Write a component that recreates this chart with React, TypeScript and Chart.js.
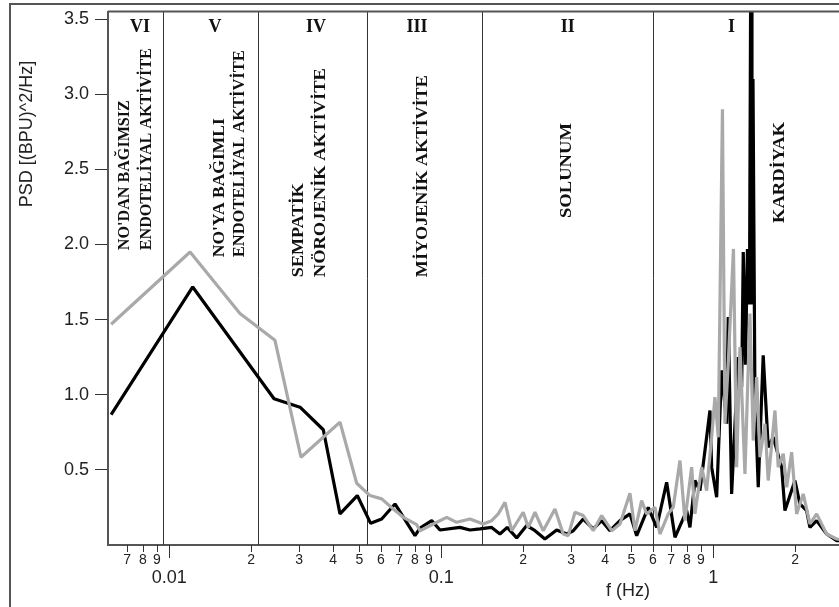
import React, { useEffect, useRef } from 'react';
import { Chart, registerables } from 'chart.js';

Chart.register(...registerables);

const SANS = '"Liberation Sans", Arial, sans-serif';
const SERIF = '"Liberation Serif", "Times New Roman", serif';

// ---- data ----
const blackFreq = [
  0.00611, 0.01219, 0.02427, 0.03024, 0.03683, 0.04242, 0.04911, 0.05499, 0.06037, 0.06758,
  0.08005, 0.0835, 0.0922, 0.0989, 0.1171, 0.1275, 0.1388, 0.1532, 0.1643, 0.1748,
  0.1893, 0.2061, 0.2211, 0.2405, 0.2656, 0.2891, 0.3057, 0.3326, 0.362, 0.3888,
  0.4172, 0.4539, 0.494, 0.523, 0.5768, 0.6192, 0.674, 0.7233, 0.7986, 0.8209,
  0.8564, 0.8935, 0.9725, 0.9865, 1.0292, 1.0737, 1.1201, 1.1353, 1.1684, 1.2356,
  1.2719, 1.2893, 1.3136, 1.3358, 1.3587, 1.378, 1.388, 1.4, 1.4233, 1.4636,
  1.5265, 1.5926, 1.6616, 1.7843, 1.8349, 1.997, 2.0834, 2.2047, 2.2671, 2.3995,
  2.6117, 2.8423, 3.2,
];
const blackPsd = [
  0.867, 1.717, 0.973, 0.917, 0.767, 0.207, 0.329, 0.144, 0.173, 0.273,
  0.062, 0.113, 0.162, 0.1, 0.117, 0.1, 0.107, 0.117, 0.073, 0.117,
  0.047, 0.129, 0.095, 0.04, 0.1, 0.073, 0.095, 0.173, 0.107, 0.162,
  0.095, 0.162, 0.207, 0.062, 0.25, 0.117, 0.417, 0.051, 0.229, 0.117,
  0.429, 0.362, 0.895, 0.518, 0.318, 1.162, 0.807, 1.517, 0.34, 1.25,
  1.05, 1.95, 1.2, 1.97, 1.6, 4.5, 1.6, 3.1, 0.984, 0.384,
  1.262, 0.651, 0.717, 0.518, 0.229, 0.429, 0.273, 0.229, 0.117, 0.162,
  0.073, 0.029, 0.03,
];
const grayFreq = [
  0.00611, 0.01192, 0.01819, 0.02446, 0.03049, 0.04242, 0.04886, 0.05468, 0.06037, 0.0666,
  0.0725, 0.08122, 0.0835, 0.09346, 0.1047, 0.1139, 0.1275, 0.1427, 0.1532, 0.162,
  0.1715, 0.1815, 0.2001, 0.2089, 0.2211, 0.2371, 0.2618, 0.2808, 0.293, 0.3102,
  0.3326, 0.362, 0.3888, 0.4233, 0.4539, 0.494, 0.5156, 0.5453, 0.5689, 0.6106,
  0.6368, 0.6832, 0.7127, 0.7544, 0.787, 0.8329, 0.8564, 0.9066, 0.9456, 0.9865,
  1.0145, 1.0432, 1.081, 1.1042, 1.1353, 1.1865, 1.219, 1.2538, 1.3079, 1.3643,
  1.4032, 1.4443, 1.4851, 1.5494, 1.5926, 1.6862, 1.7338, 1.8088, 1.8618, 1.9418,
  2.0259, 2.1423, 2.2671, 2.3995, 2.6117, 2.8423, 3.16,
];
const grayPsd = [
  1.469, 1.95, 1.54, 1.362, 0.584, 0.818, 0.411, 0.329, 0.307, 0.24,
  0.184, 0.135, 0.095, 0.14, 0.184, 0.151, 0.173, 0.14, 0.162, 0.207,
  0.284, 0.095, 0.218, 0.117, 0.218, 0.095, 0.24, 0.073, 0.062, 0.218,
  0.196, 0.095, 0.196, 0.095, 0.14, 0.344, 0.095, 0.295, 0.207, 0.251,
  0.073, 0.207, 0.251, 0.562, 0.162, 0.518, 0.207, 0.518, 0.362, 0.717,
  0.984, 0.717, 2.9, 0.807, 1.207, 1.97, 0.518, 1.317, 0.473, 1.54,
  0.695, 1.117, 0.584, 0.807, 0.429, 0.895, 0.518, 0.607, 0.384, 0.618,
  0.207, 0.34, 0.14, 0.207, 0.073, 0.04, 0.03,
];

const yTickValues = [0.5, 1, 1.5, 2, 2.5, 3, 3.5];
const xTickValues = [
  0.007, 0.008, 0.009, 0.01, 0.02, 0.03, 0.04, 0.05, 0.06, 0.07, 0.08, 0.09,
  0.1, 0.2, 0.3, 0.4, 0.5, 0.6, 0.7, 0.8, 0.9, 1, 2,
];
const xTickLabels = [
  '7', '8', '9', '0.01', '2', '3', '4', '5', '6', '7', '8', '9',
  '0.1', '2', '3', '4', '5', '6', '7', '8', '9', '1', '2',
];
const xMajorTicks = [0.01, 0.1, 1];

// band boundaries (Hz)
const bandEdges = [0.0095, 0.0212, 0.0532, 0.141, 0.598];
const bandNumerals = ['VI', 'V', 'IV', 'III', 'II', 'I'];
const bandNumeralFreq = [0.0078, 0.01472, 0.0346, 0.0814, 0.2915, 1.168];

// rotated band descriptions: text lines, their frequency, anchor psd value
const bandTextLines = [
  ["NO'DAN BAĞIMSIZ", 'ENDOTELİYAL AKTİVİTE'],
  ["NO'YA BAĞIMLI", 'ENDOTELİYAL AKTİVİTE'],
  ['SEMPATİK', 'NÖROJENİK AKTİVİTE'],
  ['MİYOJENİK AKTİVİTE'],
  ['SOLUNUM'],
  ['KARDİYAK'],
];
const bandTextFreq = [
  [0.00687, 0.00828],
  [0.01536, 0.01809],
  [0.0298, 0.03602],
  [0.08562],
  [0.2891],
  [1.759],
];
const bandTextAnchor = [1.962, 1.915, 1.782, 1.782, 2.492, 2.479];
const bandTextAlign = ['left', 'left', 'left', 'left', 'center', 'center'];

const yTitle = 'PSD [(BPU)^2/Hz]';
const xTitle = 'f (Hz)';

// layout: rendered length (px) of each rotated line
const bandTextLength = [
  [150, 202],
  [139, 207],
  [94, 209],
  [202],
  [95],
  [101],
];

const isMajor = (v: number) => xMajorTicks.some((m) => Math.abs(m - v) < 1e-9);

const decorPlugin = {
  id: 'psdDecor',
  beforeDatasetsDraw(chart: any) {
    const { ctx, chartArea } = chart;
    const xs = chart.scales.x;
    ctx.save();
    ctx.strokeStyle = '#333';
    ctx.lineWidth = 1;
    bandEdges.forEach((f) => {
      const px = Math.round(xs.getPixelForValue(f)) + 0.5;
      ctx.beginPath();
      ctx.moveTo(px, chartArea.top);
      ctx.lineTo(px, chartArea.bottom);
      ctx.stroke();
    });
    ctx.restore();
  },
  afterDraw(chart: any) {
    const { ctx, chartArea, width, height } = chart;
    const xs = chart.scales.x;
    const ys = chart.scales.y;
    ctx.save();
    // outer frame
    ctx.strokeStyle = '#555';
    ctx.lineWidth = 2;
    ctx.beginPath();
    ctx.moveTo(10, height);
    ctx.lineTo(10, 4);
    ctx.lineTo(width, 4);
    ctx.stroke();
    // top border of plot
    ctx.beginPath();
    ctx.moveTo(chartArea.left, chartArea.top);
    ctx.lineTo(chartArea.right, chartArea.top);
    ctx.stroke();
    // x tick marks
    ctx.strokeStyle = '#333';
    ctx.lineWidth = 1;
    xs.ticks.forEach((t: any) => {
      const px = Math.round(xs.getPixelForValue(t.value)) + 0.5;
      const len = isMajor(t.value) ? 13 : 7;
      ctx.beginPath();
      ctx.moveTo(px, chartArea.bottom);
      ctx.lineTo(px, chartArea.bottom + len);
      ctx.stroke();
    });
    // roman numerals
    ctx.fillStyle = '#111';
    ctx.font = `bold 18px ${SERIF}`;
    ctx.textAlign = 'center';
    ctx.textBaseline = 'middle';
    bandNumerals.forEach((n, i) => {
      ctx.fillText(n, xs.getPixelForValue(bandNumeralFreq[i]), chartArea.top + 16);
    });
    // rotated descriptions
    ctx.font = `bold 17px ${SERIF}`;
    bandTextLines.forEach((lines, i) => {
      ctx.textAlign = bandTextAlign[i] as CanvasTextAlign;
      ctx.textBaseline = 'middle';
      const py = ys.getPixelForValue(bandTextAnchor[i]);
      lines.forEach((line, j) => {
        const px = xs.getPixelForValue(bandTextFreq[i][j]);
        const w = ctx.measureText(line).width;
        const sx = w > 0 ? bandTextLength[i][j] / w : 1;
        ctx.save();
        ctx.translate(px, py);
        ctx.rotate(-Math.PI / 2);
        ctx.scale(sx, 1);
        ctx.fillText(line, 0, 0);
        ctx.restore();
      });
    });
    // axis titles
    ctx.fillStyle = '#222';
    ctx.font = `18px ${SANS}`;
    ctx.textAlign = 'center';
    ctx.textBaseline = 'middle';
    ctx.fillText(xTitle, 628, 591);
    ctx.save();
    ctx.translate(27.5, 134);
    ctx.rotate(-Math.PI / 2);
    ctx.fillText(yTitle, 0, 0);
    ctx.restore();
    ctx.restore();
  },
};

export default function App() {
  const ref = useRef<HTMLCanvasElement | null>(null);
  useEffect(() => {
    document.body.style.margin = '0';
    const canvas = ref.current;
    if (!canvas) return;
    const chart = new Chart(canvas, {
      type: 'line',
      data: {
        datasets: [
          {
            label: 'black',
            data: blackFreq.map((f, i) => ({ x: f, y: blackPsd[i] })),
            borderColor: '#000',
            borderWidth: 3.2,
            pointRadius: 0,
            borderJoinStyle: 'bevel',
            tension: 0,
            order: 2,
          },
          {
            label: 'gray',
            data: grayFreq.map((f, i) => ({ x: f, y: grayPsd[i] })),
            borderColor: '#a9a9a9',
            borderWidth: 3.2,
            pointRadius: 0,
            borderJoinStyle: 'bevel',
            tension: 0,
            order: 1,
          },
        ],
      },
      options: {
        responsive: false,
        animation: false,
        devicePixelRatio: 1,
        events: [],
        layout: { padding: { top: 11.5, left: 0, right: 0, bottom: 0 } },
        plugins: { legend: { display: false }, tooltip: { enabled: false }, title: { display: false } },
        scales: {
          x: {
            type: 'logarithmic',
            min: 0.00595,
            max: 2.9,
            afterBuildTicks: (s: any) => {
              s.ticks = xTickValues.map((v) => ({ value: v, major: isMajor(v) }));
            },
            afterFit: (s: any) => {
              s.height = 62;
              s.paddingLeft = 0;
              s.paddingRight = 0;
            },
            ticks: {
              autoSkip: false,
              maxRotation: 0,
              minRotation: 0,
              padding: 7,
              color: '#222',
              callback: (_v: any, i: number) => (isMajor(xTickValues[i]) ? ['', xTickLabels[i]] : xTickLabels[i]),
              font: (c: any) =>
                c.tick && c.tick.major
                  ? { family: SANS, size: 18, lineHeight: 0.95 }
                  : { family: SANS, size: 14, lineHeight: 1.2 },
            },
            grid: { drawOnChartArea: false, drawTicks: false },
            border: { color: '#555', width: 2 },
          },
          y: {
            type: 'linear',
            min: 0,
            max: 3.55,
            afterBuildTicks: (s: any) => {
              s.ticks = yTickValues.map((v) => ({ value: v }));
            },
            afterFit: (s: any) => {
              s.width = 108;
              s.paddingTop = 0;
              s.paddingBottom = 0;
            },
            ticks: {
              padding: 6,
              color: '#222',
              font: { family: SANS, size: 18 },
              callback: (v: any) => Number(v).toFixed(1),
            },
            grid: { drawOnChartArea: false, tickLength: 13, color: '#333', tickWidth: 1 },
            border: { color: '#555', width: 2 },
          },
        },
      },
      plugins: [decorPlugin],
    } as any);
    return () => chart.destroy();
  }, []);
  return (
    <div style={{ position: 'absolute', left: 0, top: 0, width: 839, height: 607, background: '#fff' }}>
      <canvas ref={ref} width={839} height={607} style={{ display: 'block' }} />
    </div>
  );
}
